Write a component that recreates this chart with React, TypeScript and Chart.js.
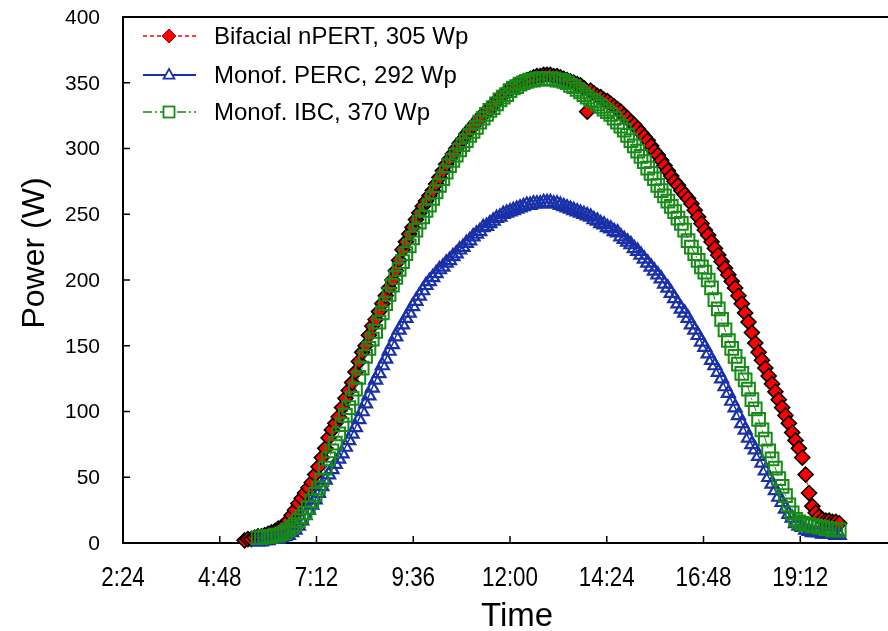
import React, { useEffect, useRef } from 'react';
import { Chart, registerables } from 'chart.js';

Chart.register(...registerables);

// Time of day in minutes after midnight (5-minute logging)
const times = [
  325, 330, 335, 340, 345, 350, 355, 360, 365, 370, 375, 380,
  385, 390, 395, 400, 405, 410, 415, 420, 425, 430, 435, 440,
  445, 450, 455, 460, 465, 470, 475, 480, 485, 490, 495, 500,
  505, 510, 515, 520, 525, 530, 535, 540, 545, 550, 555, 560,
  565, 570, 575, 580, 585, 590, 595, 600, 605, 610, 615, 620,
  625, 630, 635, 640, 645, 650, 655, 660, 665, 670, 675, 680,
  685, 690, 695, 700, 705, 710, 715, 720, 725, 730, 735, 740,
  745, 750, 755, 760, 765, 770, 775, 780, 785, 790, 795, 800,
  805, 810, 815, 820, 825, 830, 835, 840, 845, 850, 855, 860,
  865, 870, 875, 880, 885, 890, 895, 900, 905, 910, 915, 920,
  925, 930, 935, 940, 945, 950, 955, 960, 965, 970, 975, 980,
  985, 990, 995, 1000, 1005, 1010, 1015, 1020, 1025, 1030, 1035, 1040,
  1045, 1050, 1055, 1060, 1065, 1070, 1075, 1080, 1085, 1090, 1095, 1100,
  1105, 1110, 1115, 1120, 1125, 1130, 1135, 1140, 1145, 1150, 1155, 1160,
  1165, 1170, 1175, 1180, 1185, 1190, 1195, 1200, 1205, 1210,
];

const bifacialNpert = [
  2, 3, 3, 4, 5, 5, 6, 7, 8, 9, 11, 12,
  14, 17, 21, 25, 30, 34, 38, 42, 46, 52, 58, 65,
  72, 80, 86, 91, 96, 103, 110, 116, 122, 130, 138, 145,
  150, 158, 165, 170, 176, 182, 188, 194, 200, 207, 215, 223,
  229, 235, 240, 246, 251, 256, 260, 264, 268, 273, 278, 283,
  288, 292, 296, 300, 304, 307, 311, 314, 317, 320, 323, 326,
  328, 330, 333, 336, 339, 341, 343, 345, 347, 348, 350, 351,
  352, 353, 354, 355, 355, 356, 356, 356, 355, 355, 354, 353,
  352, 351, 350, 349, 348, 346, 328, 344, 342, 340, 339, 337,
  336, 334, 332, 330, 328, 325, 323, 320, 318, 315, 312, 309,
  306, 302, 298, 295, 291, 287, 283, 279, 275, 272, 268, 265,
  262, 258, 253, 248, 243, 238, 234, 229, 224, 219, 214, 209,
  204, 199, 194, 188, 182, 175, 168, 160, 152, 145, 139, 133,
  127, 121, 115, 109, 103, 97, 91, 84, 78, 72, 65, 52,
  38, 28, 23, 20, 18, 17, 17, 16, 16, 15,
];

const monofPerc = [
  null, null, null, null, 1, 1, 2, 2, 3, 3, 3, 4,
  5, 6, 8, 10, 13, 17, 21, 25, 29, 33, 38, 43,
  48, 52, 56, 60, 64, 68, 73, 78, 83, 88, 94, 100,
  106, 112, 118, 124, 129, 135, 140, 146, 151, 157, 162, 166,
  171, 175, 180, 184, 188, 192, 196, 199, 202, 205, 208, 210,
  213, 215, 218, 220, 223, 225, 228, 230, 233, 235, 237, 240,
  241, 243, 245, 247, 248, 250, 251, 252, 253, 254, 255, 256,
  257, 257, 258, 258, 258, 259, 259, 259, 258, 258, 257, 256,
  255, 254, 253, 252, 251, 250, 249, 248, 246, 245, 243, 242,
  240, 239, 237, 236, 233, 231, 229, 227, 224, 222, 219, 216,
  213, 210, 207, 204, 201, 197, 194, 190, 186, 182, 178, 175,
  171, 166, 162, 158, 153, 149, 144, 139, 135, 130, 125, 119,
  114, 108, 103, 97, 91, 86, 80, 75, 71, 66, 61, 55,
  50, 45, 40, 35, 31, 26, 22, 19, 15, 13, 12, 10,
  9, 8, 8, 8, 7, 7, 7, 7, 6, 6,
];

const monofIbc = [
  null, null, null, null, 4, 4, 5, 5, 5, 6, 6, 7,
  8, 10, 12, 14, 17, 20, 23, 27, 32, 37, 42, 48,
  57, 64, 70, 76, 83, 90, 97, 103, 110, 117, 126, 133,
  142, 148, 155, 161, 168, 175, 182, 189, 196, 202, 208, 214,
  220, 226, 232, 238, 244, 248, 253, 257, 262, 267, 272, 277,
  282, 287, 291, 295, 299, 303, 306, 310, 313, 316, 320, 323,
  326, 329, 331, 334, 337, 339, 341, 344, 346, 347, 349, 350,
  351, 352, 352, 353, 353, 353, 353, 353, 353, 352, 352, 351,
  350, 348, 347, 345, 343, 341, 339, 337, 336, 334, 332, 330,
  328, 326, 323, 320, 317, 314, 310, 306, 302, 298, 294, 290,
  285, 281, 277, 272, 268, 264, 260, 256, 252, 247, 243, 238,
  230, 225, 220, 215, 210, 206, 200, 194, 185, 178, 170, 162,
  154, 148, 142, 136, 129, 124, 117, 109, 102, 94, 86, 79,
  70, 64, 57, 49, 43, 36, 29, 23, 18, 16, 15, 14,
  14, 13, 13, 12, 12, 11, 11, 10, 10, 10,
];

const seriesLabels = ['Bifacial nPERT, 305 Wp', 'Monof. PERC, 292 Wp', 'Monof. IBC, 370 Wp'];
const xTickLabels = ['2:24', '4:48', '7:12', '9:36', '12:00', '14:24', '16:48', '19:12'];
const yTickLabels = ['0', '50', '100', '150', '200', '250', '300', '350', '400'];
const xTitle = 'Time';
const yTitle = 'Power (W)';
const xMin = 144;
const xMax = 1296;
const xStep = 144;
const yMin = 0;
const yMax = 400;
const yStep = 50;

const RED = '#ff0000';
const BLUE = '#1a30a8';
const GREEN = '#178a17';
const FONT = "'Liberation Sans', Arial, Helvetica, sans-serif";

function toPoints(vals: (number | null)[]) {
  return times.map((t, i) => ({ x: t, y: vals[i] }));
}

function drawMarker(ctx: CanvasRenderingContext2D, kind: string, x: number, y: number) {
  ctx.save();
  ctx.setLineDash([]);
  if (kind === 'diamond') {
    const r = 7;
    ctx.beginPath();
    ctx.moveTo(x, y - r);
    ctx.lineTo(x + r, y);
    ctx.lineTo(x, y + r);
    ctx.lineTo(x - r, y);
    ctx.closePath();
    ctx.fillStyle = RED;
    ctx.fill();
    ctx.strokeStyle = '#b00000';
    ctx.lineWidth = 1;
    ctx.stroke();
  } else if (kind === 'triangle') {
    const r = 6;
    ctx.beginPath();
    ctx.moveTo(x, y - r);
    ctx.lineTo(x + r * 0.9, y + r * 0.6);
    ctx.lineTo(x - r * 0.9, y + r * 0.6);
    ctx.closePath();
    ctx.fillStyle = '#fff';
    ctx.fill();
    ctx.strokeStyle = BLUE;
    ctx.lineWidth = 1.8;
    ctx.stroke();
  } else {
    const s = 5.5;
    ctx.fillStyle = '#fff';
    ctx.fillRect(x - s, y - s, 2 * s, 2 * s);
    ctx.strokeStyle = GREEN;
    ctx.lineWidth = 1.8;
    ctx.strokeRect(x - s, y - s, 2 * s, 2 * s);
  }
  ctx.restore();
}

const decorPlugin = {
  id: 'decor',
  beforeDatasetsDraw(chart: any) {
    const { ctx, chartArea: a, scales } = chart;
    const xs = scales.x;
    const ys = scales.y;
    ctx.save();
    ctx.strokeStyle = '#000';
    ctx.lineWidth = 2;
    ctx.strokeRect(a.left, a.top, a.right - a.left, a.bottom - a.top);
    ctx.lineWidth = 1.5;
    ctx.beginPath();
    xs.ticks.forEach((t: any) => {
      const px = xs.getPixelForValue(t.value);
      ctx.moveTo(px, a.bottom);
      ctx.lineTo(px, a.bottom - 7);
    });
    ys.ticks.forEach((t: any) => {
      const py = ys.getPixelForValue(t.value);
      ctx.moveTo(a.left, py);
      ctx.lineTo(a.left + 7, py);
    });
    ctx.stroke();

    ctx.fillStyle = '#000';

    // y tick labels
    ctx.font = `21px ${FONT}`;
    ctx.textAlign = 'right';
    ctx.textBaseline = 'middle';
    ys.ticks.forEach((t: any, i: number) => {
      const label = yTickLabels[i];
      if (!label) return;
      ctx.fillText(label, a.left - 23, ys.getPixelForValue(t.value) + 1);
    });

    // x tick labels (condensed face, as in the source figure)
    ctx.font = `28px ${FONT}`;
    ctx.textAlign = 'center';
    ctx.textBaseline = 'alphabetic';
    xs.ticks.forEach((t: any, i: number) => {
      const label = xTickLabels[i];
      if (!label) return;
      const px = xs.getPixelForValue(t.value);
      ctx.save();
      ctx.translate(px, a.bottom + 43);
      ctx.scale(0.8, 1);
      ctx.fillText(label, 0, 0);
      ctx.restore();
    });

    // axis titles
    ctx.font = `33px ${FONT}`;
    ctx.textAlign = 'center';
    ctx.textBaseline = 'alphabetic';
    ctx.fillText(xTitle, 517, 626);
    ctx.save();
    ctx.translate(44, 253);
    ctx.rotate(-Math.PI / 2);
    ctx.font = `32px ${FONT}`;
    ctx.fillText(yTitle, 0, 0);
    ctx.restore();
    ctx.restore();
  },
  afterDraw(chart: any) {
    const { ctx } = chart;
    const rows = [
      { label: seriesLabels[0], color: RED, dash: [4, 3], kind: 'diamond', y: 36 },
      { label: seriesLabels[1], color: BLUE, dash: [], kind: 'triangle', y: 75 },
      { label: seriesLabels[2], color: GREEN, dash: [9, 3, 2, 3], kind: 'square', y: 112 },
    ];
    ctx.save();
    rows.forEach((r) => {
      ctx.beginPath();
      ctx.setLineDash(r.dash);
      ctx.strokeStyle = r.color;
      ctx.lineWidth = r.kind === 'triangle' ? 2 : 1.5;
      ctx.moveTo(143, r.y);
      ctx.lineTo(196, r.y);
      ctx.stroke();
      drawMarker(ctx, r.kind, 169, r.y);
      ctx.setLineDash([]);
      ctx.fillStyle = '#000';
      ctx.font = `24px ${FONT}`;
      ctx.textBaseline = 'middle';
      ctx.textAlign = 'left';
      ctx.fillText(r.label, 214, r.y + 1);
    });
    ctx.restore();
  },
};

export default function App() {
  const ref = useRef<HTMLCanvasElement | null>(null);

  useEffect(() => {
    if (!ref.current) return;
    const chart = new Chart(ref.current, {
      type: 'line',
      data: {
        datasets: [
          {
            label: seriesLabels[0],
            data: toPoints(bifacialNpert),
            borderColor: RED,
            borderWidth: 1,
            borderDash: [4, 3],
            pointStyle: 'rectRot',
            pointRadius: 7.5,
            pointBackgroundColor: RED,
            pointBorderColor: '#000',
            pointBorderWidth: 1.6,
            order: 3,
            clip: false,
          },
          {
            label: seriesLabels[1],
            data: toPoints(monofPerc),
            borderColor: BLUE,
            borderWidth: 1.5,
            pointStyle: 'triangle',
            pointRadius: 7.5,
            pointBackgroundColor: 'rgba(0,0,0,0)',
            pointBorderColor: BLUE,
            pointBorderWidth: 2.2,
            order: 2,
            clip: false,
          },
          {
            label: seriesLabels[2],
            data: toPoints(monofIbc),
            borderColor: GREEN,
            borderWidth: 1,
            borderDash: [9, 3, 2, 3],
            pointStyle: 'rect',
            pointRadius: 9,
            pointBackgroundColor: 'rgba(0,0,0,0)',
            pointBorderColor: GREEN,
            pointBorderWidth: 2,
            order: 1,
            clip: false,
          },
        ] as any,
      },
      options: {
        animation: false,
        responsive: false,
        maintainAspectRatio: false,
        layout: { autoPadding: false, padding: { left: 0, right: 3, top: 17, bottom: 0 } },
        plugins: {
          legend: { display: false },
          tooltip: { enabled: false },
        },
        scales: {
          x: {
            type: 'linear',
            min: xMin,
            max: xMax,
            grid: { display: false },
            border: { display: false },
            ticks: {
              stepSize: xStep,
              autoSkip: false,
              maxRotation: 0,
              minRotation: 0,
              padding: 0,
              color: 'rgba(0,0,0,0)',
              font: { family: FONT, size: 8 },
              callback: () => '',
            },
            title: { display: false },
            afterFit: (s: any) => {
              s.height = 88;
            },
          },
          y: {
            min: yMin,
            max: yMax,
            grid: { display: false },
            border: { display: false },
            ticks: {
              stepSize: yStep,
              padding: 0,
              color: 'rgba(0,0,0,0)',
              font: { family: FONT, size: 8 },
              callback: () => '',
            },
            title: { display: false },
            afterFit: (s: any) => {
              s.width = 123;
            },
          },
        },
      } as any,
      plugins: [decorPlugin],
    });
    return () => chart.destroy();
  }, []);

  return (
    <div
      style={{
        position: 'fixed',
        left: 0,
        top: 0,
        width: 888,
        height: 631,
        overflow: 'hidden',
        background: '#fff',
      }}
    >
      <canvas ref={ref} width={900} height={631} style={{ display: 'block', width: 900, height: 631 }} />
    </div>
  );
}
